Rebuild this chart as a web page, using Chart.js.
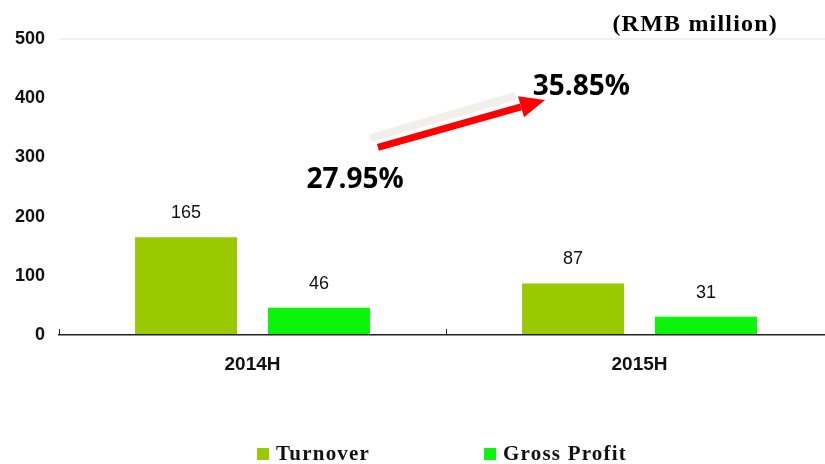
<!DOCTYPE html>
<html>
<head>
<meta charset="utf-8">
<script src="https://cdn.jsdelivr.net/npm/chart.js@4/dist/chart.umd.min.js"></script>
<style>
  html, body { margin: 0; padding: 0; background: #fff; overflow: hidden; }
  #wrap { width: 833px; height: 464px; position: relative; }
</style>
</head>
<body>
<div id="wrap"><canvas id="chart"></canvas></div>
<script>
// --- data ---
const categories = ['2014H', '2015H'];
const turnover = [165, 87];
const grossProfit = [46, 31];
const grossMargin = [27.95, 35.85];   // gross profit margin, %
const yTicks = [0, 100, 200, 300, 400, 500];
const unitLabel = '(RMB million)';

const SANS = "'Liberation Sans', Arial, sans-serif";
const SERIF = "'Liberation Serif', 'Times New Roman', serif";

// draws value labels, axis tick marks, margin annotations, unit label and legend
const overlay = {
    id: 'overlay',
    afterDatasetsDraw(chart) {
        const ctx = chart.ctx;
        ctx.save();
        ctx.font = '18px ' + SANS;
        ctx.fillStyle = '#111';
        ctx.textAlign = 'center';
        ctx.textBaseline = 'middle';
        chart.data.datasets.forEach((ds, i) => {
            chart.getDatasetMeta(i).data.forEach((bar, j) => {
                ctx.fillText(ds.data[j], bar.x, bar.y - 24);
            });
        });
        ctx.restore();
    },
    afterDraw(chart) {
        const ctx = chart.ctx;
        const xs = chart.scales.x, ys = chart.scales.y;
        const area = chart.chartArea;
        const x0 = xs.getPixelForValue(0);
        const step = xs.getPixelForValue(1) - x0;
        const px = f => x0 + f * step;   // position along the category axis
        const py = v => ys.getPixelForValue(v);

        // small tick marks on the category axis (pointing up)
        ctx.save();
        ctx.strokeStyle = '#222';
        ctx.lineWidth = 1;
        [area.left, x0 + step / 2].forEach(tx => {
            ctx.beginPath();
            ctx.moveTo(Math.round(tx) + 0.5, area.bottom);
            ctx.lineTo(Math.round(tx) + 0.5, area.bottom - 6);
            ctx.stroke();
        });
        ctx.restore();

        // pale shadow behind the arrow
        ctx.save();
        ctx.strokeStyle = '#f0efe9';
        ctx.lineWidth = 8;
        ctx.beginPath();
        ctx.moveTo(px(0.306), py(333));
        ctx.lineTo(px(0.680), py(404));
        ctx.stroke();
        ctx.restore();

        // red arrow from the 2014H margin to the 2015H margin
        const ax = px(0.324), ay = py(317), bx = px(0.756), by = py(397);
        const ang = Math.atan2(by - ay, bx - ax);
        const headLen = 25, headHalf = 11;
        const hx = bx - headLen * Math.cos(ang), hy = by - headLen * Math.sin(ang);
        ctx.save();
        ctx.strokeStyle = '#ff0000';
        ctx.fillStyle = '#ff0000';
        ctx.lineWidth = 7;
        ctx.beginPath();
        ctx.moveTo(ax, ay);
        ctx.lineTo(hx, hy);
        ctx.stroke();
        ctx.beginPath();
        ctx.moveTo(bx, by);
        ctx.lineTo(hx + headHalf * Math.sin(ang), hy - headHalf * Math.cos(ang));
        ctx.lineTo(hx - headHalf * Math.sin(ang), hy + headHalf * Math.cos(ang));
        ctx.closePath();
        ctx.fill();
        ctx.restore();

        // margin labels
        ctx.save();
        ctx.font = "bold 28px 'Open Sans', " + SANS;
        ctx.fillStyle = '#000';
        ctx.textAlign = 'center';
        ctx.textBaseline = 'middle';
        ctx.fillText(grossMargin[0].toFixed(2) + '%', px(0.265), py(262));
        ctx.fillText(grossMargin[1].toFixed(2) + '%', px(0.850), py(419));
        ctx.restore();

        // unit label
        ctx.save();
        ctx.font = 'bold 24px ' + SERIF;
        ctx.letterSpacing = '1.2px';
        ctx.fillStyle = '#000';
        ctx.textAlign = 'right';
        ctx.textBaseline = 'middle';
        ctx.fillText(unitLabel, 778, 25);
        ctx.restore();

        // legend
        ctx.save();
        ctx.font = 'bold 21px ' + SERIF;
        ctx.letterSpacing = '1.2px';
        ctx.textBaseline = 'alphabetic';
        ctx.textAlign = 'left';
        const box = 12, gap = 7, itemGap = 114;
        const items = chart.data.datasets.map(ds => ({
            label: ds.label, color: ds.backgroundColor,
            w: ctx.measureText(ds.label).width
        }));
        const total = items.reduce((s, it) => s + box + gap + it.w, 0) + itemGap * (items.length - 1);
        let lx = (area.left + 825) / 2 - total / 2;
        const baseY = 460;
        items.forEach(it => {
            ctx.fillStyle = it.color;
            ctx.fillRect(lx, baseY - 12, box, box);
            ctx.fillStyle = '#111';
            ctx.fillText(it.label, lx + box + gap, baseY);
            lx += box + gap + it.w + itemGap;
        });
        ctx.restore();
    }
};

const ctx = document.getElementById('chart').getContext('2d');
new Chart(ctx, {
    type: 'bar',
    data: {
        labels: categories,
        datasets: [{
            label: 'Turnover',
            data: turnover,
            backgroundColor: '#99c900',
            categoryPercentage: 0.687,
            barPercentage: 0.767
        }, {
            label: 'Gross Profit',
            data: grossProfit,
            backgroundColor: '#0af50a',
            categoryPercentage: 0.687,
            barPercentage: 0.767
        }]
    },
    options: {
        responsive: true,
        maintainAspectRatio: false,
        animation: false,
        layout: { padding: { top: 39, left: 0, right: 0, bottom: 0 } },
        plugins: {
            legend: { display: false },
            tooltip: { enabled: false }
        },
        scales: {
            x: {
                grid: { display: false },
                border: { display: true, color: '#222', width: 1.5 },
                ticks: {
                    padding: 10,
                    color: '#111',
                    font: { family: SANS, size: 19, weight: 'bold' }
                },
                afterFit: scale => { scale.height = 129; }
            },
            y: {
                min: yTicks[0],
                max: yTicks[yTicks.length - 1],
                afterBuildTicks: scale => { scale.ticks = yTicks.map(v => ({ value: v })); },
                grid: {
                    drawTicks: false,
                    color: c => (c.tick && c.tick.value === 500 ? '#f1f1f1' : 'rgba(0,0,0,0)'),
                    lineWidth: 2
                },
                border: { display: false },
                ticks: {
                    padding: 14,
                    color: '#111',
                    font: { family: SANS, size: 18, weight: 'bold' }
                },
                afterFit: scale => { scale.width = 59; }
            }
        }
    },
    plugins: [overlay]
});
</script>
</body>
</html>
